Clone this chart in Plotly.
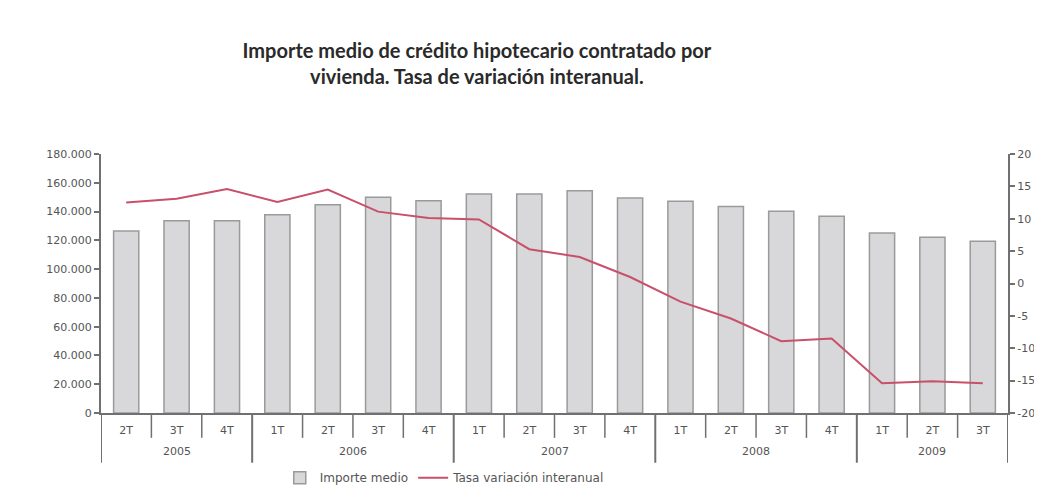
import plotly.graph_objects as go
from plotly.subplots import make_subplots

years = ["2005"] * 3 + ["2006"] * 4 + ["2007"] * 4 + ["2008"] * 4 + ["2009"] * 3
quarters = ["2T", "3T", "4T",
            "1T", "2T", "3T", "4T",
            "1T", "2T", "3T", "4T",
            "1T", "2T", "3T", "4T",
            "1T", "2T", "3T"]
importe_medio = [126500, 133600, 133600,
                 137800, 144800, 149900, 147500,
                 152200, 152200, 154500, 149400,
                 147100, 143600, 140200, 136700,
                 125100, 122100, 119300]
tasa_variacion = [12.5, 13.1, 14.6,
                  12.6, 14.5, 11.1, 10.1,
                  9.9, 5.3, 4.1, 1.0,
                  -2.8, -5.4, -8.9, -8.5,
                  -15.4, -15.1, -15.4]
tasa_ticks = [-20, -15, -10, -5, 0, 5, 10, 15, 20]
tasa_tick_labels = ["-20", "-15", "-10", "-5", "0", "5", "10", "15", "20"]

TITLE_FONT = "Lato"
FONT = "DejaVu Sans"
TXT = "#555555"
AX = "#707070"

idx = list(range(len(quarters)))

fig = make_subplots(specs=[[{"secondary_y": True}]])

fig.add_trace(go.Bar(
    x=idx, y=importe_medio, name="Importe medio",
    width=0.5,
    marker=dict(color="#d8d8da", line=dict(color="#9a9a9a", width=1.5)),
), secondary_y=False)

fig.add_trace(go.Scatter(
    x=idx, y=tasa_variacion, name="Tasa variación interanual",
    mode="lines", line=dict(color="#c8506a", width=2),
), secondary_y=True)

# Category separators and year labels derived from the category lists
shapes = []
annotations = []
n = len(quarters)
for i in range(n + 1):
    boundary = i - 0.5
    is_year = (i == 0 or i == n or years[i] != years[i - 1])
    shapes.append(dict(type="line", xref="x", yref="paper",
                       x0=boundary, x1=boundary, y0=0,
                       y1=-0.192 if is_year else -0.096,
                       line=dict(color=AX, width=2 if is_year else 1.5)))
start = 0
for i in range(1, n + 1):
    if i == n or years[i] != years[start]:
        annotations.append(dict(x=(start + i - 1) / 2, y=-0.15, xref="x", yref="paper",
                                text=years[start], showarrow=False,
                                font=dict(family=FONT, size=11, color=TXT),
                                yanchor="middle"))
        start = i

fig.update_layout(
    width=1042, height=486,
    margin=dict(l=93, r=42, t=146, b=81, autoexpand=False),
    paper_bgcolor="white", plot_bgcolor="white",
    separators=",.",
    font=dict(family=FONT, size=11, color=TXT),
    title=dict(
        text="<b>Importe medio de crédito hipotecario contratado por<br>vivienda. Tasa de variación interanual.</b>",
        x=0.450, xanchor="center", y=0.897, yanchor="top",
        font=dict(family=TITLE_FONT, size=20, color="#2a2a2a"),
    ),
    showlegend=True,
    legend=dict(orientation="h", x=0.379, xanchor="center", y=-0.25, yanchor="middle",
                font=dict(family=FONT, size=12, color=TXT), bgcolor="rgba(0,0,0,0)"),
    shapes=shapes,
    annotations=annotations,
)

fig.update_xaxes(
    domain=[0, 1], range=[-0.5, n - 0.5],
    tickmode="array", tickvals=idx, ticktext=quarters,
    showline=True, linecolor=AX, linewidth=1.5,
    ticks="outside", ticklen=6, tickcolor="rgba(0,0,0,0)",
    showgrid=False, zeroline=False,
    tickfont=dict(family=FONT, size=11, color=TXT),
)
fig.update_yaxes(
    range=[0, 180000], dtick=20000, tickformat=",d",
    showline=True, linecolor=AX, linewidth=2,
    ticks="outside", ticklen=5, tickcolor=AX, tickwidth=1.5,
    showgrid=False, zeroline=False,
    tickfont=dict(family=FONT, size=11, color=TXT),
    secondary_y=False,
)
fig.update_yaxes(
    range=[-20, 20], tickmode="array", tickvals=tasa_ticks, ticktext=tasa_tick_labels,
    showline=True, linecolor=AX, linewidth=2,
    ticks="outside", ticklen=5, tickcolor=AX, tickwidth=1.5,
    showgrid=False, zeroline=False,
    tickfont=dict(family=FONT, size=11, color=TXT),
    secondary_y=True,
)

fig.write_html("out.html")
